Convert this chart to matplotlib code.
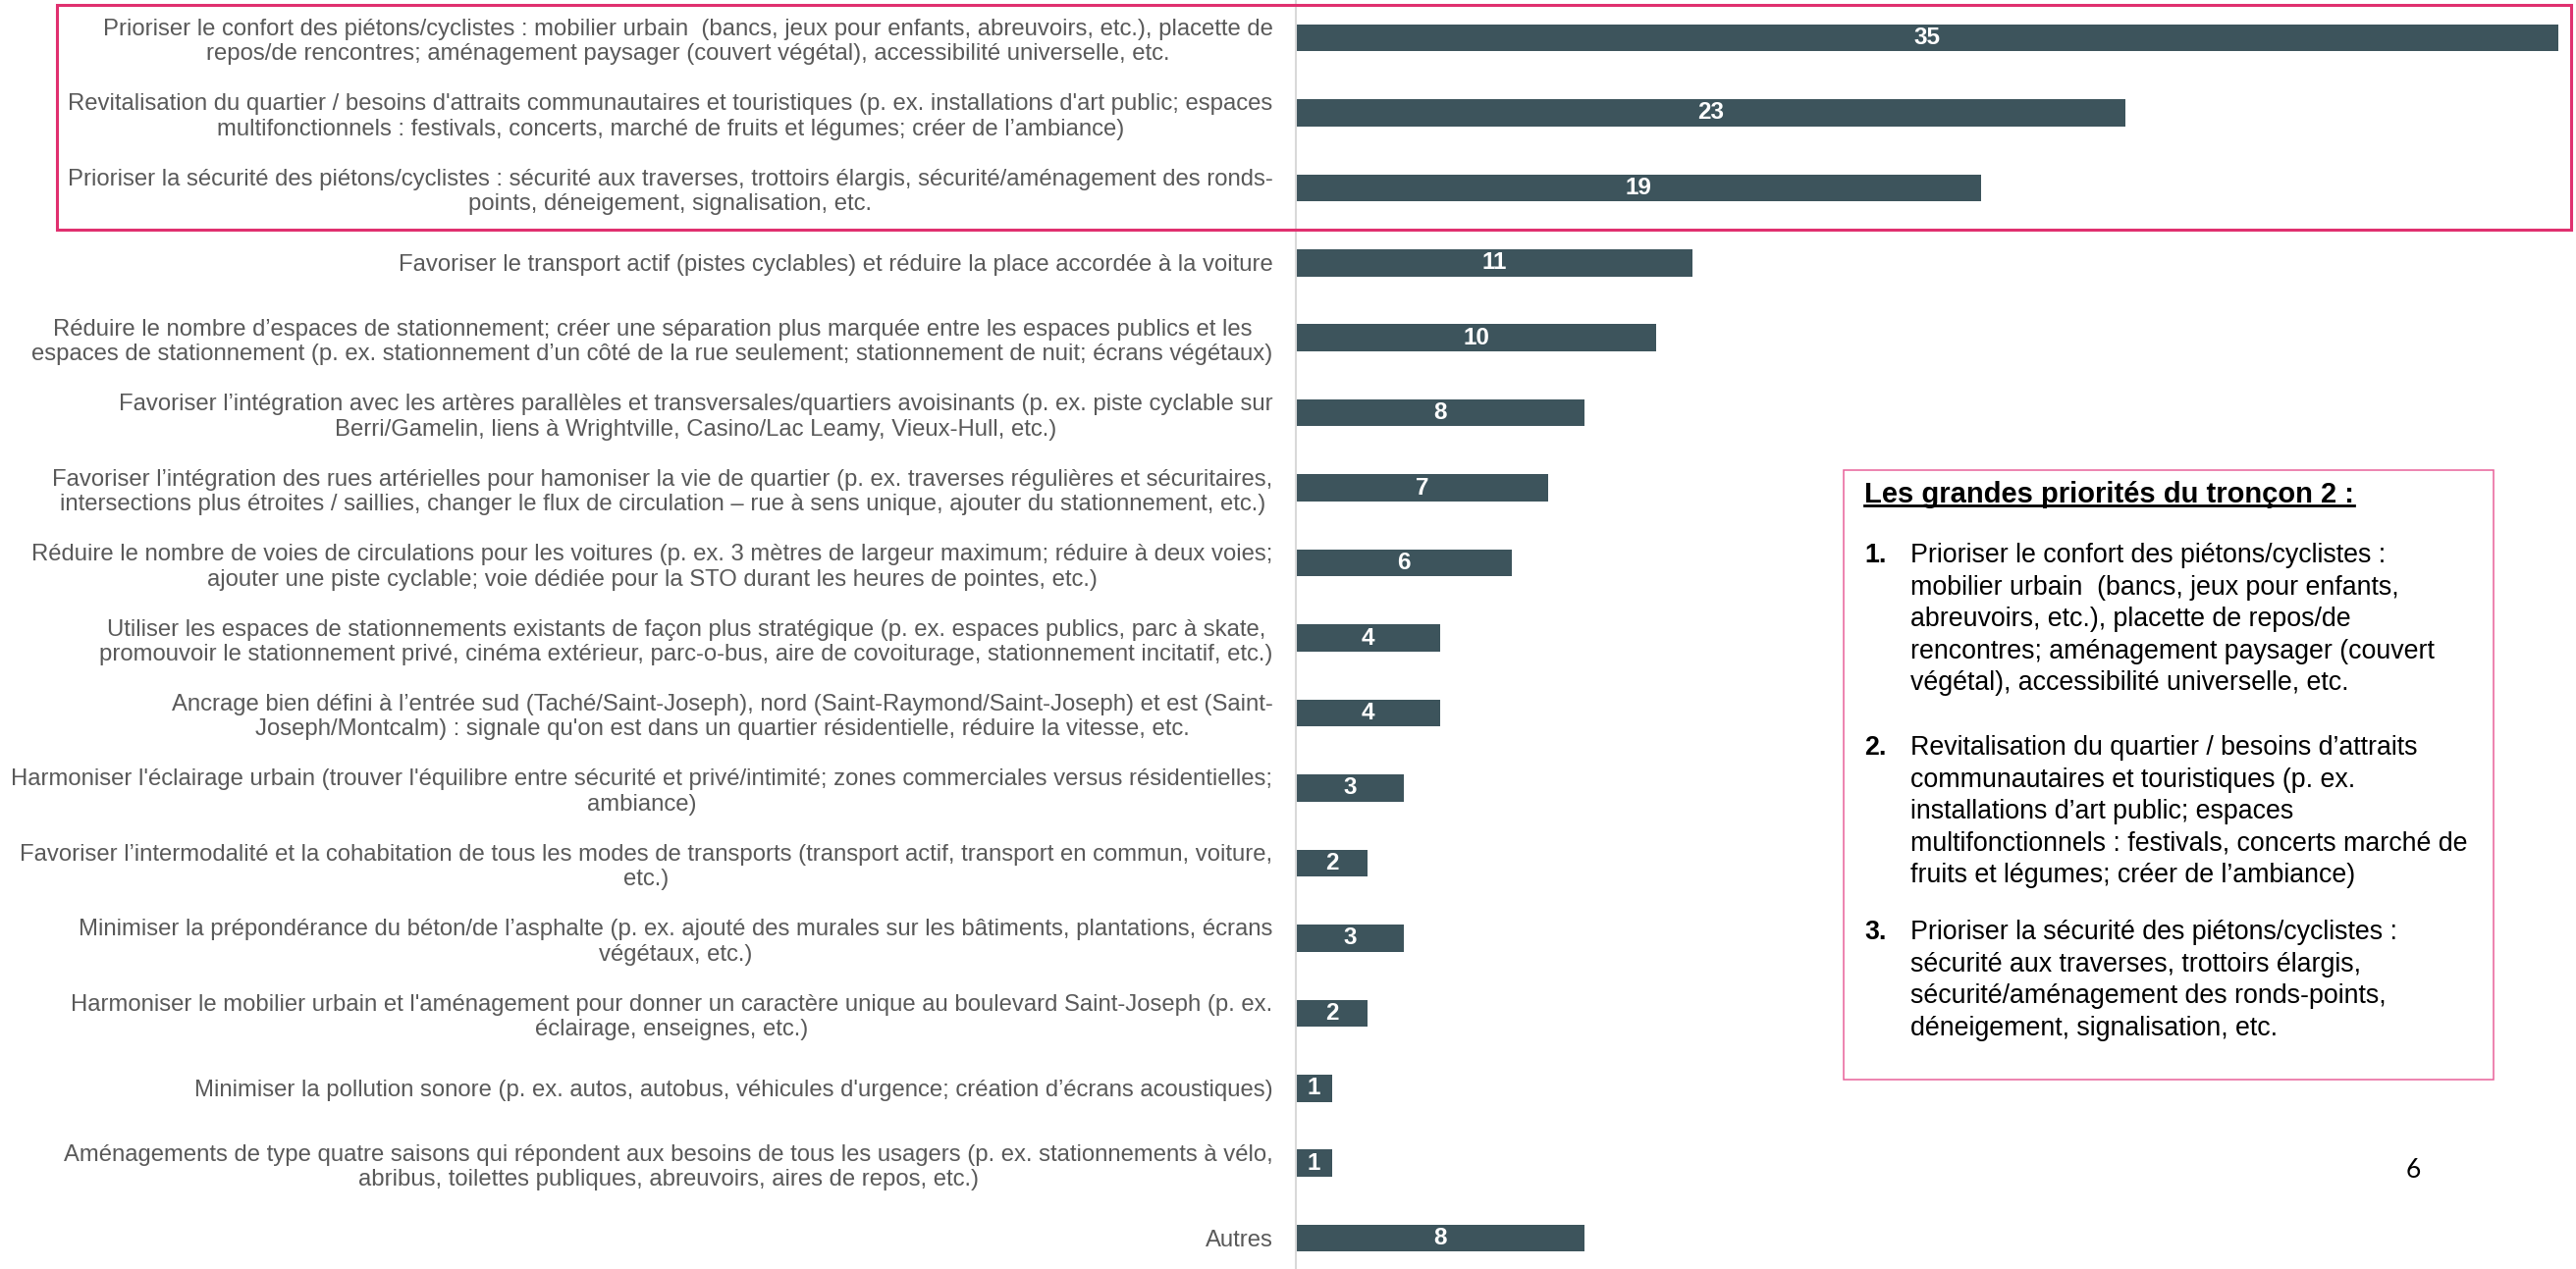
import matplotlib
matplotlib.use("Agg")
from matplotlib import pyplot as plt
from matplotlib.patches import Rectangle
from matplotlib.lines import Line2D

categories = [
    "Prioriser le confort des piétons/cyclistes : mobilier urbain  (bancs, jeux pour enfants, abreuvoirs, etc.), placette de\n"
    "repos/de rencontres; aménagement paysager (couvert végétal), accessibilité universelle, etc.",
    "Revitalisation du quartier / besoins d'attraits communautaires et touristiques (p. ex. installations d'art public; espaces\n"
    "multifonctionnels : festivals, concerts, marché de fruits et légumes; créer de l’ambiance)",
    "Prioriser la sécurité des piétons/cyclistes : sécurité aux traverses, trottoirs élargis, sécurité/aménagement des ronds-\n"
    "points, déneigement, signalisation, etc.",
    "Favoriser le transport actif (pistes cyclables) et réduire la place accordée à la voiture",
    "Réduire le nombre d’espaces de stationnement; créer une séparation plus marquée entre les espaces publics et les\n"
    "espaces de stationnement (p. ex. stationnement d’un côté de la rue seulement; stationnement de nuit; écrans végétaux)",
    "Favoriser l’intégration avec les artères parallèles et transversales/quartiers avoisinants (p. ex. piste cyclable sur\n"
    "Berri/Gamelin, liens à Wrightville, Casino/Lac Leamy, Vieux-Hull, etc.)",
    "Favoriser l’intégration des rues artérielles pour hamoniser la vie de quartier (p. ex. traverses régulières et sécuritaires,\n"
    "intersections plus étroites / saillies, changer le flux de circulation – rue à sens unique, ajouter du stationnement, etc.)",
    "Réduire le nombre de voies de circulations pour les voitures (p. ex. 3 mètres de largeur maximum; réduire à deux voies;\n"
    "ajouter une piste cyclable; voie dédiée pour la STO durant les heures de pointes, etc.)",
    "Utiliser les espaces de stationnements existants de façon plus stratégique (p. ex. espaces publics, parc à skate,\n"
    "promouvoir le stationnement privé, cinéma extérieur, parc-o-bus, aire de covoiturage, stationnement incitatif, etc.)",
    "Ancrage bien défini à l’entrée sud (Taché/Saint-Joseph), nord (Saint-Raymond/Saint-Joseph) et est (Saint-\n"
    "Joseph/Montcalm) : signale qu'on est dans un quartier résidentielle, réduire la vitesse, etc.",
    "Harmoniser l'éclairage urbain (trouver l'équilibre entre sécurité et privé/intimité; zones commerciales versus résidentielles;\n"
    "ambiance)",
    "Favoriser l’intermodalité et la cohabitation de tous les modes de transports (transport actif, transport en commun, voiture,\n"
    "etc.)",
    "Minimiser la prépondérance du béton/de l’asphalte (p. ex. ajouté des murales sur les bâtiments, plantations, écrans\n"
    "végétaux, etc.)",
    "Harmoniser le mobilier urbain et l'aménagement pour donner un caractère unique au boulevard Saint-Joseph (p. ex.\n"
    "éclairage, enseignes, etc.)",
    "Minimiser la pollution sonore (p. ex. autos, autobus, véhicules d'urgence; création d’écrans acoustiques)",
    "Aménagements de type quatre saisons qui répondent aux besoins de tous les usagers (p. ex. stationnements à vélo,\n"
    "abribus, toilettes publiques, abreuvoirs, aires de repos, etc.)",
    "Autres",
]
counts = [35, 23, 19, 11, 10, 8, 7, 6, 4, 4, 3, 2, 3, 2, 1, 1, 8]

box_title = "Les grandes priorités du tronçon 2 :"
box_items = [
    "Prioriser le confort des piétons/cyclistes :\nmobilier urbain  (bancs, jeux pour enfants,\n"
    "abreuvoirs, etc.), placette de repos/de\nrencontres; aménagement paysager (couvert\n"
    "végétal), accessibilité universelle, etc.",
    "Revitalisation du quartier / besoins d’attraits\ncommunautaires et touristiques (p. ex.\n"
    "installations d’art public; espaces\nmultifonctionnels : festivals, concerts marché de\n"
    "fruits et légumes; créer de l’ambiance)",
    "Prioriser la sécurité des piétons/cyclistes :\nsécurité aux traverses, trottoirs élargis,\n"
    "sécurité/aménagement des ronds-points,\ndéneigement, signalisation, etc.",
]
page_number = "6"

W, H = 2624, 1293
BAR_COLOR = "#3d545c"
LABEL_COLOR = "#595959"

plt.rcParams["font.family"] = ["Liberation Sans", "DejaVu Sans"]

fig = plt.figure(figsize=(W / 100, H / 100), dpi=100)
ax = fig.add_axes([1320 / W, 0, (2606 - 1320) / W, 1])

ypos = list(range(len(categories)))
bars = ax.barh(ypos, counts, height=0.36, color=BAR_COLOR)
ax.bar_label(bars, labels=[str(c) for c in counts], label_type="center",
             color="white", fontweight="bold", fontsize=17.5)

ax.set_xlim(0, 35)
ax.set_ylim(16.41, -0.503)
ax.set_yticks(ypos)
ax.set_yticklabels(categories, fontsize=17.2, color=LABEL_COLOR,
                   multialignment="center", linespacing=1.2)
ax.tick_params(axis="y", length=0, pad=17)
ax.set_xticks([])
for side in ["top", "right", "bottom"]:
    ax.spines[side].set_visible(False)
ax.spines["left"].set_color("#d9d9d9")
ax.spines["left"].set_linewidth(1.5)

# highlight box around the top three priorities
fig.add_artist(Rectangle((58 / W, 1 - 234 / H), (2619 - 58) / W, (234 - 5) / H,
                         transform=fig.transFigure, fill=False,
                         edgecolor="#e0306f", linewidth=2.2))

# summary box on the right
fig.add_artist(Rectangle((1878 / W, 1 - 1100 / H), (2540 - 1878) / W, (1100 - 479) / H,
                         transform=fig.transFigure, fill=False,
                         edgecolor="#e8629a", linewidth=1.1))

title = fig.text(1899 / W, 1 - 504 / H, box_title, fontsize=21, fontweight="bold",
                 ha="left", va="center", color="black")

item_tops = [553, 749, 937]
for i, (item, top) in enumerate(zip(box_items, item_tops)):
    fig.text(1899 / W, 1 - top / H, f"{i + 1}.", fontsize=19.3, fontweight="bold",
             ha="left", va="top", color="black")
    fig.text(1946 / W, 1 - top / H, item, fontsize=19.3,
             ha="left", va="top", color="black", linespacing=1.33)

fig.text(2458 / W, 1 - 1193 / H, page_number, fontsize=19,
         family=["Lato", "DejaVu Sans"], ha="center", va="center", color="black")

# underline the title
fig.canvas.draw()
bb = title.get_window_extent().transformed(fig.transFigure.inverted())
fig.add_artist(Line2D([bb.x0, bb.x1], [bb.y0 + 0.1 * bb.height] * 2,
                      transform=fig.transFigure, color="black", linewidth=2))

fig.savefig("out.png", dpi=100)
